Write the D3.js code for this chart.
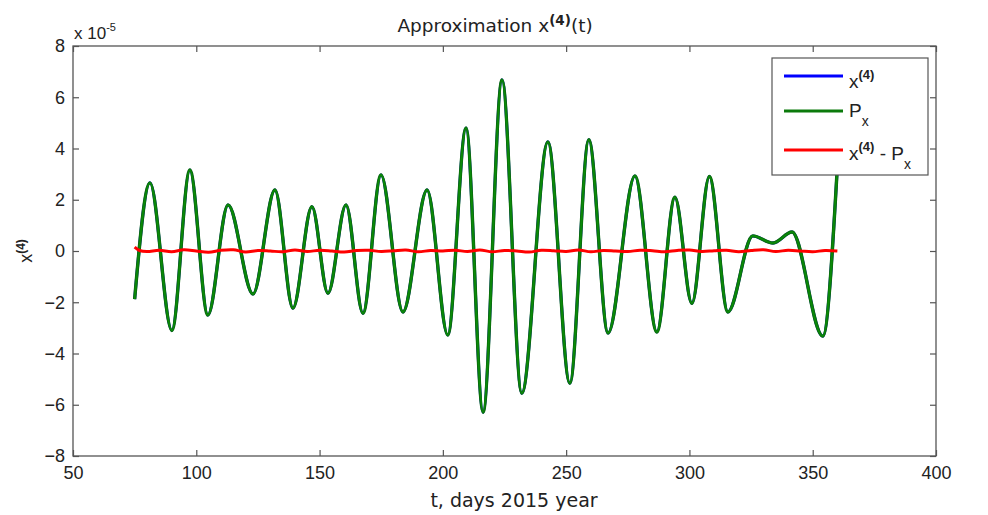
<!DOCTYPE html>
<html>
<head>
<meta charset="utf-8">
<script src="https://cdn.jsdelivr.net/npm/d3@7"></script>
<style>
  html, body { margin: 0; padding: 0; background: #fff; }
  svg { display: block; }
</style>
</head>
<body>
<svg id="chart" width="988" height="515"></svg>
<script>
// ---- data (values in units of 1e-5) ----
const xTicks = [50, 100, 150, 200, 250, 300, 350, 400];
const yTicks = [-8, -6, -4, -2, 0, 2, 4, 6, 8];
const tPoints = [75, 81.2, 90.1, 97.4, 104.7, 112.9, 123, 131.9, 139.2, 146.9, 153.4, 160.7, 167.6, 174.9, 183.8, 193.6, 202, 209.4, 216.3, 224, 232, 242.6, 251.5, 259.2, 267, 277.9, 286.8, 294.1, 301, 308.1, 315.6, 325.7, 333.9, 341.6, 354.1, 360];
const pxValues = [-1.88, 2.66, -3.1, 3.16, -2.5, 1.8, -1.68, 2.38, -2.23, 1.73, -1.65, 1.8, -2.43, 2.97, -2.38, 2.38, -3.28, 4.8, -6.29, 6.68, -5.55, 4.26, -5.16, 4.34, -3.2, 2.93, -3.16, 2.1, -2.04, 2.91, -2.38, 0.59, 0.31, 0.74, -3.32, 3.3];
const x4Values = pxValues.slice();
const resT = [75, 77, 80, 85, 90, 95, 100, 105, 110, 115, 120, 125, 130, 135, 140, 145, 150, 155, 160, 165, 170, 175, 180, 185, 190, 195, 200, 205, 210, 215, 220, 225, 230, 235, 240, 245, 250, 255, 260, 265, 270, 275, 280, 285, 290, 295, 300, 305, 310, 315, 320, 325, 330, 335, 340, 345, 350, 355, 360];
const resValues = [0.15, 0.02, -0.02, 0.03, -0.03, 0.05, 0.0, -0.05, 0.03, 0.05, -0.04, 0.02, 0.0, -0.03, 0.04, -0.02, 0.03, 0.0, -0.04, 0.02, 0.03, -0.02, 0.01, 0.04, -0.03, 0.02, 0.0, 0.03, -0.02, 0.04, -0.03, 0.02, 0.0, -0.04, 0.03, 0.01, -0.02, 0.04, -0.03, 0.02, 0.0, -0.02, 0.03, 0.01, -0.03, 0.02, 0.04, -0.02, 0.01, 0.03, -0.03, 0.02, 0.05, -0.02, 0.03, 0.0, -0.03, 0.02, 0.0];

// ---- layout ----
const svg = d3.select("#chart");
const L = 73, R = 936, T = 46, B = 456;
const x = d3.scaleLinear().domain([50, 400]).range([L, R]);
const y = d3.scaleLinear().domain([-8, 8]).range([B, T]);
const axisColor = "#555";
const tickFont = "'Liberation Sans', Arial, sans-serif";

// axes box
svg.append("rect").attr("x", L).attr("y", T).attr("width", R - L).attr("height", B - T)
  .attr("fill", "#fff").attr("stroke", axisColor).attr("stroke-width", 1.3);

function styleAxis(g, showLabels) {
  g.select(".domain").remove();
  g.selectAll(".tick line").attr("stroke", axisColor).attr("stroke-width", 1.2);
  g.selectAll(".tick text").attr("fill", "#222").attr("font-family", tickFont).attr("font-size", 18);
  if (!showLabels) g.selectAll(".tick text").remove();
}

svg.append("g").attr("transform", `translate(0,${B})`)
  .call(d3.axisBottom(x).tickValues(xTicks).tickSizeInner(-6).tickSizeOuter(0).tickPadding(10))
  .call(g => styleAxis(g, true));
svg.append("g").attr("transform", `translate(0,${T})`)
  .call(d3.axisTop(x).tickValues(xTicks).tickSizeInner(-6).tickSizeOuter(0))
  .call(g => styleAxis(g, false));
svg.append("g").attr("transform", `translate(${L},0)`)
  .call(d3.axisLeft(y).tickValues(yTicks).tickSizeInner(-6).tickSizeOuter(0).tickPadding(8))
  .call(g => styleAxis(g, true));
svg.append("g").attr("transform", `translate(${R},0)`)
  .call(d3.axisRight(y).tickValues(yTicks).tickSizeInner(-6).tickSizeOuter(0))
  .call(g => styleAxis(g, false));

// exponent label
const ex = svg.append("text").attr("x", 74).attr("y", 39).attr("font-family", tickFont)
  .attr("font-size", 17).attr("fill", "#222");
ex.append("tspan").text("x 10");
ex.append("tspan").attr("dy", -8).attr("font-size", 11).text("-5");

// ---- lines ----
const line = d3.line().x(d => x(d[0])).y(d => y(d[1])).curve(d3.curveMonotoneX);
const x4Data = tPoints.map((t, i) => [t, x4Values[i]]);
const pxData = tPoints.map((t, i) => [t, pxValues[i]]);
const resData = resT.map((t, i) => [t, resValues[i]]);

svg.append("path").datum(x4Data).attr("d", line).attr("fill", "none")
  .attr("stroke", "#0000ff").attr("stroke-width", 3);
svg.append("path").datum(pxData).attr("d", line).attr("fill", "none")
  .attr("stroke", "#0b6e0b").attr("stroke-width", 3.4);
svg.append("path").datum(pxData).attr("d", line).attr("fill", "none")
  .attr("stroke", "#0a8a0a").attr("stroke-width", 1.6);
svg.append("path").datum(resData).attr("d", d3.line().x(d => x(d[0])).y(d => y(d[1])).curve(d3.curveCatmullRom))
  .attr("fill", "none").attr("stroke", "#ff0000").attr("stroke-width", 3);

// ---- title & labels ----
const titleFont = "'DejaVu Sans', Verdana, sans-serif";
const title = svg.append("text").attr("x", 495).attr("y", 32).attr("text-anchor", "middle")
  .attr("font-family", titleFont).attr("font-size", 18.5).attr("fill", "#222");
title.append("tspan").text("Approximation x");
title.append("tspan").attr("dy", -7).attr("font-size", 13.5).attr("font-weight", "bold").text("(4)");
title.append("tspan").attr("dy", 7).text("(t)");

svg.append("text").attr("x", 514).attr("y", 507).attr("text-anchor", "middle")
  .attr("font-family", titleFont).attr("font-size", 19).attr("fill", "#222")
  .text("t, days 2015 year");

const yl = svg.append("text").attr("transform", "translate(32,251) rotate(-90)")
  .attr("text-anchor", "middle").attr("font-family", tickFont).attr("font-size", 18).attr("fill", "#222");
yl.append("tspan").text("x");
yl.append("tspan").attr("dy", -7).attr("font-size", 12).attr("font-weight", "bold").text("(4)");

// ---- legend ----
const legendItems = [
  { color: "#0000ff", cy: 76 },
  { color: "#0b7a0b", cy: 111 },
  { color: "#ff0000", cy: 150 }
];
const lg = svg.append("g");
lg.append("rect").attr("x", 772).attr("y", 58).attr("width", 156).attr("height", 117)
  .attr("fill", "#fff").attr("stroke", axisColor).attr("stroke-width", 1.2);
lg.selectAll("line.leg").data(legendItems).enter().append("line")
  .attr("x1", 784).attr("x2", 843).attr("y1", d => d.cy).attr("y2", d => d.cy)
  .attr("stroke", d => d.color).attr("stroke-width", 3);

const lt1 = lg.append("text").attr("x", 849).attr("y", 88).attr("font-family", tickFont).attr("font-size", 19).attr("fill", "#222");
lt1.append("tspan").text("x");
lt1.append("tspan").attr("dy", -9).attr("font-size", 13).attr("font-weight", "bold").text("(4)");

const lt2 = lg.append("text").attr("x", 849).attr("y", 117).attr("font-family", tickFont).attr("font-size", 19).attr("fill", "#222");
lt2.append("tspan").text("P");
lt2.append("tspan").attr("dy", 9).attr("font-size", 14).text("x");

const lt3 = lg.append("text").attr("x", 849).attr("y", 160).attr("font-family", tickFont).attr("font-size", 19).attr("fill", "#222");
lt3.append("tspan").text("x");
lt3.append("tspan").attr("dy", -9).attr("font-size", 13).attr("font-weight", "bold").text("(4)");
lt3.append("tspan").attr("dy", 9).text(" - P");
lt3.append("tspan").attr("dy", 9).attr("font-size", 14).text("x");
</script>
</body>
</html>
